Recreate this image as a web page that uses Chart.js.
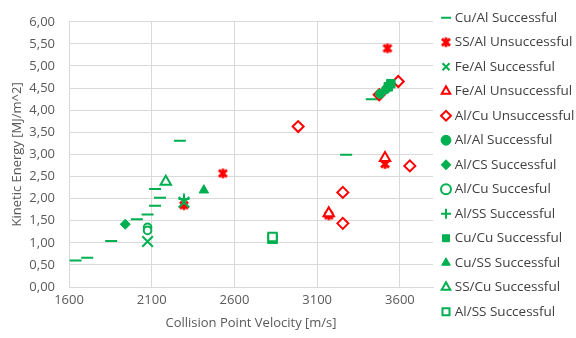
<!DOCTYPE html>
<html>
<head>
<meta charset="utf-8">
<script src="https://cdn.jsdelivr.net/npm/chart.js@4.4.1/dist/chart.umd.min.js"></script>
<style>
  html, body { margin: 0; padding: 0; background: #fff; }
  #wrap { width: 576px; height: 338px; }
</style>
</head>
<body>
<div id="wrap"><canvas id="chart" width="576" height="338"></canvas></div>
<script>
// values
const xTicks = [1600, 2100, 2600, 3100, 3600];

const cuAlSuccessX = [1640, 1710, 1855, 2010, 2075, 2120, 2150, 2120, 2270, 3275, 3430];
const cuAlSuccessY = [0.60, 0.66, 1.04, 1.53, 1.64, 1.84, 2.02, 2.22, 3.31, 2.99, 4.25];
const ssAlFailX = [2295, 2530, 3525, 3510, 3170];
const ssAlFailY = [1.85, 2.57, 5.40, 2.78, 1.62];
const feAlSuccessX = [2075, 2295];
const feAlSuccessY = [1.03, 1.92];
const feAlFailX = [3510, 3170];
const feAlFailY = [2.92, 1.67];
const alCuFailX = [2985, 3590, 3475, 3660, 3255, 3255];
const alCuFailY = [3.63, 4.65, 4.35, 2.74, 2.14, 1.44];
const alAlSuccessX = [3480, 3515];
const alAlSuccessY = [4.37, 4.47];
const alCsSuccessX = [1940];
const alCsSuccessY = [1.42];
const alCuSuccessX = [2075, 2075];
const alCuSuccessY = [1.35, 1.28];
const alSsSuccessX = [2295];
const alSsSuccessY = [1.99];
const cuCuSuccessX = [3530, 3545];
const cuCuSuccessY = [4.53, 4.60];
const cuSsSuccessX = [2415];
const cuSsSuccessY = [2.19];
const ssCuSuccessX = [2185];
const ssCuSuccessY = [2.38];
const alSs2SuccessX = [2830, 2830];
const alSs2SuccessY = [1.09, 1.13];

const GREEN = '#00B050';
const RED = '#FF0000';
const FONT = "'Open Sans', sans-serif";

function pts(xs, ys) {
  return xs.map((x, i) => ({ x: x, y: ys[i] }));
}

// excel style asterisk marker (X plus a vertical bar)
function asterisk(color, size) {
  const c = document.createElement('canvas');
  c.width = size; c.height = size;
  const g = c.getContext('2d');
  const m = size / 2, r = size / 2 - 1.2;
  g.strokeStyle = color;
  g.lineWidth = 2.8;
  g.beginPath();
  g.moveTo(m - r * 0.85, m - r * 0.7); g.lineTo(m + r * 0.85, m + r * 0.7);
  g.moveTo(m + r * 0.85, m - r * 0.7); g.lineTo(m - r * 0.85, m + r * 0.7);
  g.moveTo(m, m - r); g.lineTo(m, m + r);
  g.stroke();
  return c;
}

function series(label, xs, ys, style, fill, stroke, radius, bw) {
  return {
    label: label,
    data: pts(xs, ys),
    pointStyle: style,
    backgroundColor: fill,
    borderColor: stroke,
    pointRadius: radius,
    pointHoverRadius: radius,
    borderWidth: bw,
    pointBorderWidth: bw
  };
}

const datasets = [
  series('Cu/Al Successful', cuAlSuccessX, cuAlSuccessY, 'line', GREEN, GREEN, 6, 2),
  series('SS/Al Unsuccessful', ssAlFailX, ssAlFailY, asterisk(RED, 12), RED, RED, 6, 2),
  series('Fe/Al Successful', feAlSuccessX, feAlSuccessY, 'crossRot', GREEN, GREEN, 7.5, 2),
  series('Fe/Al Unsuccessful', feAlFailX, feAlFailY, 'triangle', '#fff', RED, 6, 2),
  series('Al/Cu Unsuccessful', alCuFailX, alCuFailY, 'rectRot', '#fff', RED, 5.5, 2),
  series('Al/Al Successful', alAlSuccessX, alAlSuccessY, 'circle', GREEN, GREEN, 4.5, 1),
  series('Al/CS Successful', alCsSuccessX, alCsSuccessY, 'rectRot', GREEN, GREEN, 5, 1),
  series('Al/Cu Succesful', alCuSuccessX, alCuSuccessY, 'circle', '#fff', GREEN, 3.8, 2),
  series('Al/SS Successful', alSsSuccessX, alSsSuccessY, 'cross', GREEN, GREEN, 5.5, 2),
  series('Cu/Cu Successful', cuCuSuccessX, cuCuSuccessY, 'rect', GREEN, GREEN, 6, 1),
  series('Cu/SS Successful', cuSsSuccessX, cuSsSuccessY, 'triangle', GREEN, GREEN, 5.5, 1),
  series('SS/Cu Successful', ssCuSuccessX, ssCuSuccessY, 'triangle', '#fff', GREEN, 6, 2),
  series('Al/SS Successful', alSs2SuccessX, alSs2SuccessY, 'rect', '#fff', GREEN, 6, 2)
];
// later series sit on top, like in the spreadsheet
datasets.forEach((d, i) => { d.order = -i; });

new Chart(document.getElementById('chart'), {
  type: 'scatter',
  data: { datasets: datasets },
  options: {
    responsive: false,
    animation: false,
    layout: { padding: 0 },
    scales: {
      x: {
        type: 'linear',
        min: 1600,
        max: 3800,
        afterBuildTicks: (s) => { s.ticks = xTicks.map(v => ({ value: v })); },
        afterFit: (s) => { s.height = 51; },
        grid: { color: '#d9d9d9', drawTicks: false },
        border: { color: '#d9d9d9' },
        ticks: {
          color: '#595959',
          font: { family: FONT, size: 13 },
          padding: 5,
          maxRotation: 0,
          callback: (v) => String(v)
        },
        title: {
          display: true,
          text: 'Collision Point Velocity [m/s]',
          color: '#595959',
          font: { family: FONT, size: 13 },
          padding: { top: 0, bottom: 7 }
        }
      },
      y: {
        min: 0,
        max: 6,
        afterFit: (s) => { s.width = 69; },
        grid: { color: '#d9d9d9', drawTicks: false },
        border: { color: '#d9d9d9' },
        ticks: {
          stepSize: 0.5,
          color: '#595959',
          font: { family: FONT, size: 13 },
          padding: 14,
          callback: (v) => v.toFixed(2).replace('.', ',')
        },
        title: {
          display: true,
          text: 'Kinetic Energy [MJ/m^2]',
          color: '#595959',
          font: { family: FONT, size: 13 },
          padding: { top: 9, bottom: 0 }
        }
      }
    },
    plugins: {
      tooltip: { enabled: false },
      legend: {
        position: 'right',
        align: 'start',
        maxWidth: 143,
        labels: {
          usePointStyle: true,
          boxWidth: 4,
          boxHeight: 7,
          padding: 11,
          color: '#404040',
          font: { family: FONT, size: 13.5 },
          sort: (a, b) => a.datasetIndex - b.datasetIndex
        }
      }
    }
  }
});
</script>
</body>
</html>
